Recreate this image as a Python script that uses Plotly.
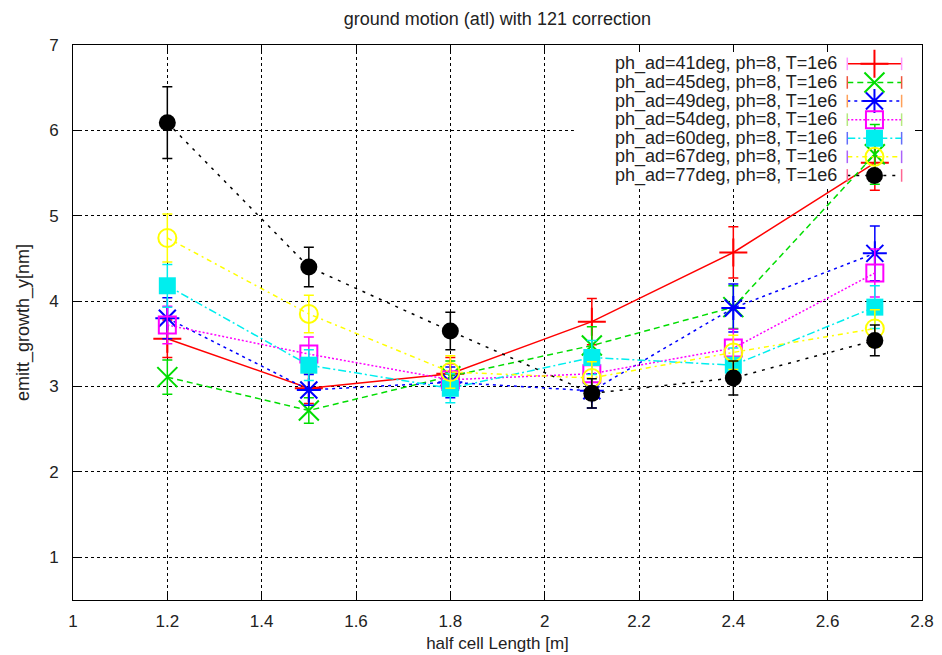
import plotly.graph_objects as go

# half cell length [m]
half_cell = [1.2, 1.5, 1.8, 2.1, 2.4, 2.7]

labels = [
    "ph_ad=41deg, ph=8, T=1e6",
    "ph_ad=45deg, ph=8, T=1e6",
    "ph_ad=49deg, ph=8, T=1e6",
    "ph_ad=54deg, ph=8, T=1e6",
    "ph_ad=60deg, ph=8, T=1e6",
    "ph_ad=67deg, ph=8, T=1e6",
    "ph_ad=77deg, ph=8, T=1e6",
]

# emittance growth in y [nm] and its error, one list per phase advance
growth_41 = [3.56, 2.98, 3.15, 3.76, 4.57, 5.62]
err_41 = [0.22, 0.18, 0.19, 0.27, 0.30, 0.32]
growth_45 = [3.11, 2.72, 3.12, 3.48, 3.93, 5.72]
err_45 = [0.20, 0.15, 0.18, 0.22, 0.25, 0.35]
growth_49 = [3.80, 2.96, 3.05, 2.95, 3.92, 4.56]
err_49 = [0.24, 0.18, 0.18, 0.20, 0.28, 0.32]
growth_54 = [3.72, 3.38, 3.08, 3.15, 3.45, 4.33]
err_54 = [0.22, 0.20, 0.18, 0.20, 0.22, 0.28]
growth_60 = [4.18, 3.25, 2.98, 3.34, 3.25, 3.93]
err_60 = [0.25, 0.18, 0.17, 0.20, 0.20, 0.25]
growth_67 = [4.74, 3.85, 3.17, 3.10, 3.40, 3.68]
err_67 = [0.28, 0.22, 0.19, 0.19, 0.20, 0.22]
growth_77 = [6.09, 4.40, 3.65, 2.92, 3.10, 3.54]
err_77 = [0.42, 0.23, 0.22, 0.17, 0.20, 0.18]

x_ticks = [1, 1.2, 1.4, 1.6, 1.8, 2, 2.2, 2.4, 2.6, 2.8]
x_tick_text = ["1", "1.2", "1.4", "1.6", "1.8", "2", "2.2", "2.4", "2.6", "2.8"]
y_ticks = [1, 2, 3, 4, 5, 6, 7]

series = [
    (growth_41, err_41, "#ff0000", "solid", "cross-thin-open", 20, 2),
    (growth_45, err_45, "#00dd00", "6px,4px", "x-thin-open", 20, 2),
    (growth_49, err_49, "#0000ff", "3px,4px", "asterisk-open", 20, 2),
    (growth_54, err_54, "#ff00ff", "2px,2px", "square-open", 17, 2),
    (growth_60, err_60, "#00eeee", "8px,3px,2px,3px", "square", 17, 0),
    (growth_67, err_67, "#ffff00", "5px,4px,2px,4px", "circle-open", 18, 2),
    (growth_77, err_77, "#000000", "3px,6px", "circle", 17, 0),
]

font = "Liberation Sans, Arial, sans-serif"
ink = "#222222"

fig = go.Figure()

for (vals, errs, color, dash, symbol, size, mlw), name in zip(series, labels):
    fig.add_trace(go.Scatter(
        x=half_cell, y=vals, name=name, mode="lines+markers",
        line=dict(color=color, width=1.5, dash=dash),
        marker=dict(symbol=symbol, size=size, color=color,
                    line=dict(color=color, width=mlw)),
        error_y=dict(type="data", array=errs, color=color,
                     thickness=1.5, width=5),
        showlegend=False,
    ))

# key drawn gnuplot-style: text on the left, sample line with caps on the right
key_x0, key_x1, key_xm = 0.912, 0.976, 0.944
key_top, key_step = 0.966, 0.0335
for i, ((vals, errs, color, dash, symbol, size, mlw), name) in enumerate(zip(series, labels)):
    ky = key_top - i * key_step
    fig.add_trace(go.Scatter(
        x=[key_x0, key_x1], y=[ky, ky], mode="lines",
        line=dict(color=color, width=1.5, dash=dash),
        xaxis="x2", yaxis="y2", showlegend=False, hoverinfo="skip"))
    fig.add_trace(go.Scatter(
        x=[key_x0, key_x1], y=[ky, ky], mode="markers",
        marker=dict(symbol="line-ns-open", size=9, line=dict(color=color, width=1.5)),
        xaxis="x2", yaxis="y2", showlegend=False, hoverinfo="skip"))
    fig.add_trace(go.Scatter(
        x=[key_xm], y=[ky], mode="markers",
        marker=dict(symbol=symbol, size=size, color=color,
                    line=dict(color=color, width=mlw)),
        xaxis="x2", yaxis="y2", showlegend=False, hoverinfo="skip"))
    fig.add_annotation(
        x=0.902, y=ky, xref="x2", yref="y2", text=name, showarrow=False,
        xanchor="right", yanchor="middle",
        font=dict(family=font, size=18, color=ink))

fig.update_layout(
    width=942, height=655,
    margin=dict(l=73, r=20, t=45, b=55, autoexpand=False),
    paper_bgcolor="white", plot_bgcolor="white",
    title=dict(text="ground motion (atl) with 121 correction",
               x=0.528, xanchor="center", y=0.972, yanchor="middle",
               automargin=False,
               font=dict(family=font, size=18, color=ink)),
    xaxis=dict(range=[1, 2.8], tickvals=x_ticks, ticktext=x_tick_text,
               automargin=False,
               showgrid=True, gridcolor="#000000", griddash="dot", gridwidth=1,
               zeroline=False, showline=True, linecolor="#000000", linewidth=1,
               mirror="ticks", ticks="inside", ticklen=7, tickcolor="#000000",
               ticklabelstandoff=6,
               tickfont=dict(family=font, size=17, color=ink),
               title=dict(text="half cell Length [m]", standoff=6,
                          font=dict(family=font, size=17, color=ink))),
    yaxis=dict(range=[0.5, 7], tickvals=y_ticks,
               automargin=False,
               showgrid=True, gridcolor="#000000", griddash="dot", gridwidth=1,
               zeroline=False, showline=True, linecolor="#000000", linewidth=1,
               mirror="ticks", ticks="inside", ticklen=7, tickcolor="#000000",
               ticklabelstandoff=10,
               tickfont=dict(family=font, size=17, color=ink),
               title=dict(text="emitt_growth_y[nm]", standoff=14,
                          font=dict(family=font, size=18, color=ink))),
    xaxis2=dict(range=[0, 1], overlaying="x", visible=False, fixedrange=True),
    yaxis2=dict(range=[0, 1], overlaying="y", visible=False, fixedrange=True),
    # blank panel behind the key: hides the grid but stays under the data
    shapes=[dict(type="rect", xref="x", yref="y", x0=2.062, x1=2.791,
                 y0=5.34, y1=6.94, fillcolor="white", line=dict(width=0),
                 layer="between")],
)

fig.write_html("out.html")
